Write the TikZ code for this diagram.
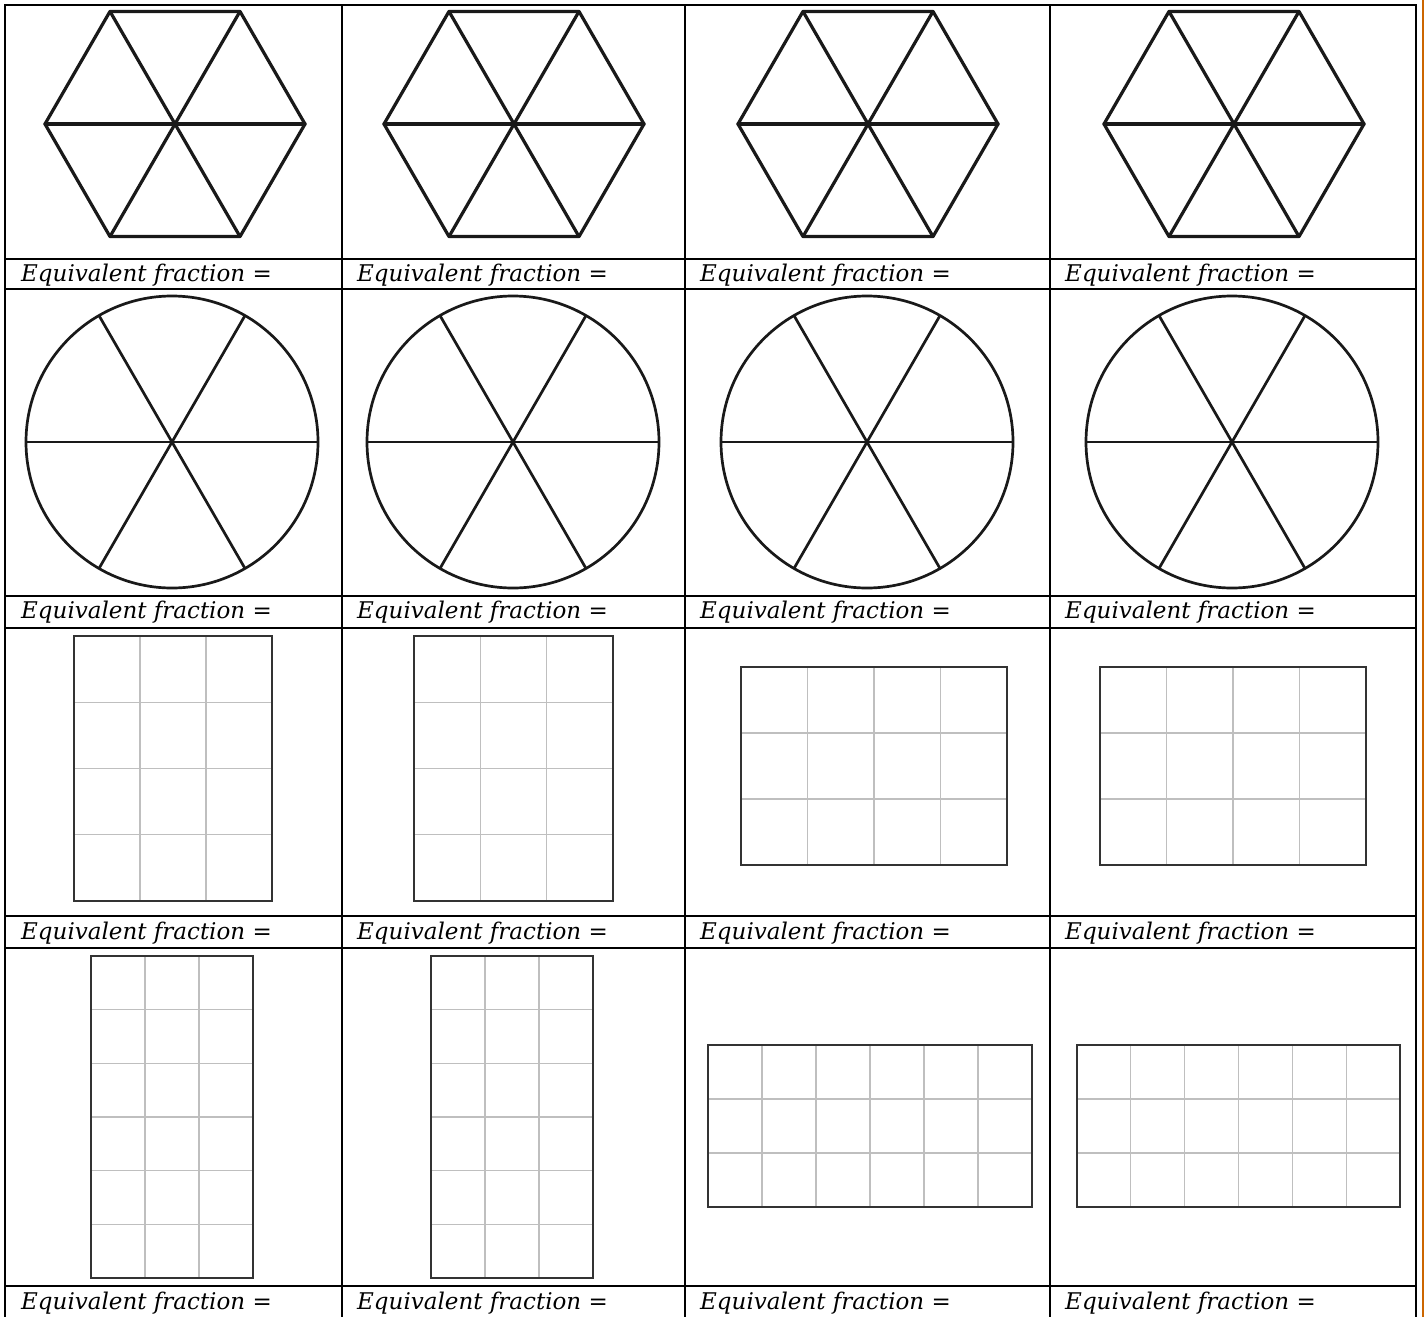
\documentclass[tikz,border=0pt]{standalone}
\usepackage{fontspec}
\setmainfont{DejaVu Serif}
\begin{document}
\begin{tikzpicture}[x=1pt,y=-1pt,
  tabline/.style={line width=2.8pt,black},
  hexline/.style={line width=3.2pt,black!90,line join=round,line cap=round},
  circline/.style={line width=2.7pt,black!90},
  boxline/.style={line width=2.9pt,black!80},
  gridline/.style={line width=1.2pt,black!25},
  lbl/.style={font=\fontsize{23}{26}\selectfont\itshape,inner sep=0pt,anchor=base west}]
\useasboundingbox (0,0) rectangle (1424,1317);
\fill[white] (0,0) rectangle (1424,1317);
% hexagons
\foreach \cx in {175,514,868,1234}{
  \draw[hexline] (\cx,124) +(0:130pt) -- +(60:130pt) -- +(120:130pt) -- +(180:130pt) -- +(240:130pt) -- +(300:130pt) -- cycle;
  \draw[hexline] (\cx,124) +(0:130pt) -- +(180:130pt);
  \draw[hexline] (\cx,124) +(60:130pt) -- +(240:130pt);
  \draw[hexline] (\cx,124) +(120:130pt) -- +(300:130pt);
}
% circles
\foreach \cx in {172,513,867,1232}{
  \draw[circline] (\cx,442) circle[radius=146pt];
  \draw[circline] (\cx,442) +(0:146pt) -- +(180:146pt);
  \draw[circline] (\cx,442) +(60:146pt) -- +(240:146pt);
  \draw[circline] (\cx,442) +(120:146pt) -- +(300:146pt);
}
% row 3 rectangles
\foreach \xa/\xb in {74/272,414/613}{
  \foreach \k in {1,2}{\draw[gridline] ({\xa+(\xb-\xa)*\k/3},636) -- ({\xa+(\xb-\xa)*\k/3},901);}
  \foreach \k in {1,2,3}{\draw[gridline] (\xa,{636+265*\k/4}) -- (\xb,{636+265*\k/4});}
  \draw[boxline] (\xa,636) rectangle (\xb,901);
}
\foreach \xa/\xb in {741/1007,1100/1366}{
  \foreach \k in {1,2,3}{\draw[gridline] ({\xa+(\xb-\xa)*\k/4},667) -- ({\xa+(\xb-\xa)*\k/4},865);}
  \foreach \k in {1,2}{\draw[gridline] (\xa,{667+198*\k/3}) -- (\xb,{667+198*\k/3});}
  \draw[boxline] (\xa,667) rectangle (\xb,865);
}
% row 4 rectangles
\foreach \xa/\xb in {91/253,431/593}{
  \foreach \k in {1,2}{\draw[gridline] ({\xa+(\xb-\xa)*\k/3},956) -- ({\xa+(\xb-\xa)*\k/3},1278);}
  \foreach \k in {1,...,5}{\draw[gridline] (\xa,{956+322*\k/6}) -- (\xb,{956+322*\k/6});}
  \draw[boxline] (\xa,956) rectangle (\xb,1278);
}
\foreach \xa/\xb in {708/1032,1077/1400}{
  \foreach \k in {1,...,5}{\draw[gridline] ({\xa+(\xb-\xa)*\k/6},1045) -- ({\xa+(\xb-\xa)*\k/6},1207);}
  \foreach \k in {1,2}{\draw[gridline] (\xa,{1045+162*\k/3}) -- (\xb,{1045+162*\k/3});}
  \draw[boxline] (\xa,1045) rectangle (\xb,1207);
}
% table
\foreach \xx in {5,342,685,1050,1416}{\draw[tabline] (\xx,4) -- (\xx,1317);}
\foreach \yy in {5,259,289,596,628,916,948,1286}{\draw[tabline] (4,\yy) -- (1417,\yy);}
\draw[line width=1.4pt,orange!80!black] (1423,0) -- (1423,1317);
% labels
\foreach \r/\by in {1/281,2/618,3/939,4/1309}{
  \foreach \c/\tx in {1/21,2/357,3/700,4/1065}{
    \node[lbl] (t\r\c) at (\tx,\by) {Equivalent fraction =};
  }
}
\end{tikzpicture}
\end{document}
